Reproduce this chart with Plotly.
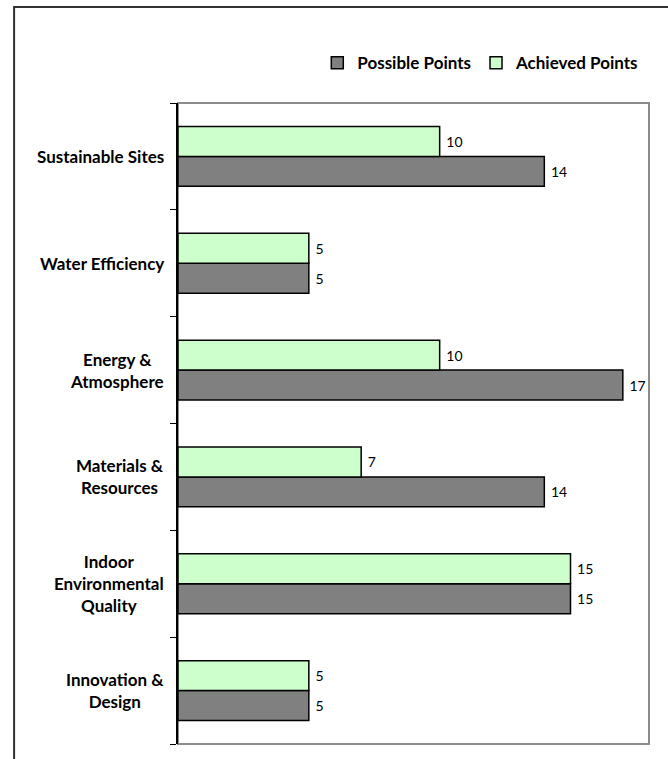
import plotly.graph_objects as go

categories = ["Sustainable Sites", "Water Efficiency", "Energy & Atmosphere",
              "Materials & Resources", "Indoor Environmental Quality", "Innovation & Design"]
label_lines = [["Sustainable Sites"], ["Water Efficiency"], ["Energy &", "Atmosphere"],
               ["Materials &", "Resources"], ["Indoor", "Environmental", "Quality"],
               ["Innovation &", "Design"]]
possible_points = [14, 5, 17, 14, 15, 5]
achieved_points = [10, 5, 10, 7, 15, 5]

FONT = "Lato"

cats_r = categories[::-1]
fig = go.Figure()
fig.add_trace(go.Bar(
    y=cats_r, x=possible_points[::-1], orientation="h", name="Possible Points",
    marker=dict(color="#808080", line=dict(color="#000000", width=1.5)),
    text=possible_points[::-1], texttemplate=" %{text}", textposition="outside",
    textfont=dict(family=FONT, size=14, color="#000000"), cliponaxis=False,
))
fig.add_trace(go.Bar(
    y=cats_r, x=achieved_points[::-1], orientation="h", name="Achieved Points",
    marker=dict(color="#CCFFCC", line=dict(color="#000000", width=1.5)),
    text=achieved_points[::-1], texttemplate=" %{text}", textposition="outside",
    textfont=dict(family=FONT, size=14, color="#000000"), cliponaxis=False,
))

annotations = []
for cat, lines in zip(categories, label_lines):
    txt = "<br>".join(lines)
    annotations.append(dict(
        x=0, xref="paper", y=cat, yref="y", text=txt, showarrow=False,
        xanchor="right", xshift=-12, align="center",
        font=dict(family=FONT, size=17, color="#000000", weight="bold"),
    ))

shapes = [
    dict(type="rect", xref="paper", yref="paper", x0=0, x1=1, y0=0, y1=1,
         line=dict(color="#8c8c8c", width=2), layer="below"),
    dict(type="rect", xref="paper", yref="paper", x0=-0.348, x1=1.2, y0=-0.2, y1=1.1498,
         line=dict(color="#333333", width=2), layer="below"),
]

fig.update_layout(
    width=668, height=759,
    margin=dict(l=178, r=19, t=103, b=15),
    paper_bgcolor="white", plot_bgcolor="white",
    barmode="group", bargap=0.44, bargroupgap=0,
    font=dict(family=FONT, size=14, color="#000000"),
    showlegend=True,
    legend=dict(orientation="h", x=0.99, xanchor="right", y=1.062, yanchor="middle",
                font=dict(family=FONT, size=17, color="#000000", weight="bold"),
                itemwidth=30, traceorder="normal", bgcolor="rgba(0,0,0,0)"),
    xaxis=dict(range=[0, 18], showgrid=False, showticklabels=False, ticks="",
               zeroline=False, showline=False, fixedrange=True),
    yaxis=dict(categoryorder="array", categoryarray=cats_r, tickson="boundaries",
               ticks="outside", ticklen=6, tickcolor="#000000", tickwidth=1,
               showticklabels=False, showline=True, linecolor="#000000", linewidth=1.5,
               showgrid=False, zeroline=False, fixedrange=True),
    annotations=annotations, shapes=shapes,
)

fig.write_html("out.html", config={"displayModeBar": False},
               post_script="document.body.style.margin='0';")
